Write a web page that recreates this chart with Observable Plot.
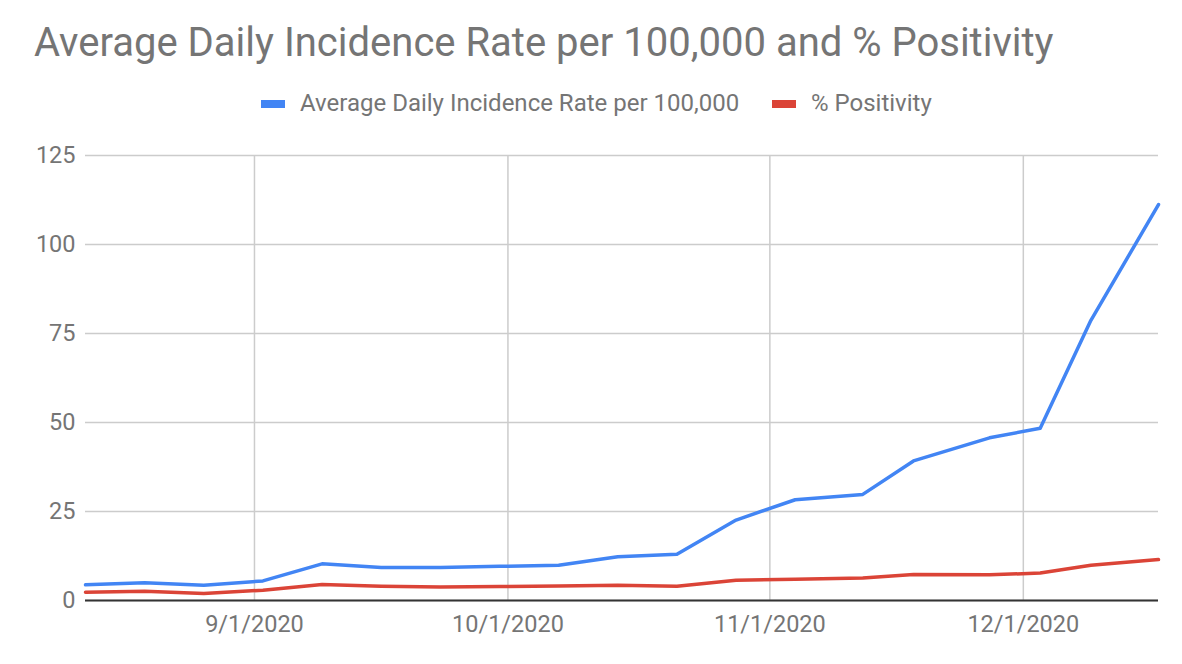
<!DOCTYPE html>
<html>
<head>
<meta charset="utf-8">
<script src="https://cdn.jsdelivr.net/npm/d3@7"></script>
<script src="https://cdn.jsdelivr.net/npm/@observablehq/plot@0.6"></script>
<style>
  html, body { margin: 0; padding: 0; background: #fff; }
  #wrap { position: relative; width: 1182px; height: 664px; font-family: Roboto, "Open Sans", sans-serif; color: #757575; overflow: hidden; }
  #title { position: absolute; left: 34px; top: 19px; font-size: 40px; line-height: 48px; white-space: nowrap; color: #757575; }
  #legend { position: absolute; top: 89px; left: 0; font-size: 24px; line-height: 28px; color: #757575; white-space: nowrap; }
  .item { position: absolute; top: 0; }
  .sw { position: absolute; top: 11px; width: 24px; height: 8px; }
  #chart { position: absolute; left: 0; top: 130px; }
</style>
</head>
<body>
<div id="wrap">
  <div id="title">Average Daily Incidence Rate per 100,000 and % Positivity</div>
  <div id="legend"></div>
  <div id="chart"></div>
</div>
<script>
const dates = ["2020-08-12","2020-08-19","2020-08-26","2020-09-02","2020-09-09","2020-09-16","2020-09-23","2020-09-30","2020-10-07","2020-10-14","2020-10-21","2020-10-28","2020-11-04","2020-11-12","2020-11-18","2020-11-27","2020-12-03","2020-12-09","2020-12-17"];
const incidence = [4.4, 5.0, 4.3, 5.5, 10.3, 9.3, 9.3, 9.6, 9.9, 12.3, 13.0, 22.6, 28.3, 29.8, 39.2, 45.7, 48.4, 78.7, 111.2];
const positivity = [2.3, 2.6, 2.0, 2.9, 4.5, 4.0, 3.8, 3.9, 4.1, 4.3, 4.0, 5.7, 6.0, 6.3, 7.3, 7.2, 7.7, 9.9, 11.5];
const seriesNames = ["Average Daily Incidence Rate per 100,000", "% Positivity"];
const seriesColors = ["#4285F4", "#DB4437"];
const yTicks = [0, 25, 50, 75, 100, 125];
const xTickDates = ["2020-09-01","2020-10-01","2020-11-01","2020-12-01"];
const xTickLabels = ["9/1/2020","10/1/2020","11/1/2020","12/1/2020"];

const parse = d3.utcParse("%Y-%m-%d");
const rows = [];
dates.forEach((d, i) => {
  rows.push({date: parse(d), value: incidence[i], series: seriesNames[0]});
  rows.push({date: parse(d), value: positivity[i], series: seriesNames[1]});
});
const xTicks = xTickDates.map(parse);
const labelMap = new Map(xTicks.map((t, i) => [+t, xTickLabels[i]]));

// Legend
const legend = document.getElementById("legend");
const legendPos = [{sw: 261, tx: 300}, {sw: 772, tx: 811}];
seriesNames.forEach((name, i) => {
  const sw = document.createElement("div");
  sw.className = "sw";
  sw.style.left = legendPos[i].sw + "px";
  sw.style.background = seriesColors[i];
  legend.appendChild(sw);
  const t = document.createElement("div");
  t.className = "item";
  t.style.left = legendPos[i].tx + "px";
  t.textContent = name;
  legend.appendChild(t);
});

const plot = Plot.plot({
  width: 1182,
  height: 534,
  marginLeft: 85,
  marginRight: 24,
  marginTop: 25,
  marginBottom: 64,
  style: {fontFamily: "Roboto, sans-serif", fontSize: "23.5px", color: "#757575", background: "#fff"},
  x: {type: "utc", domain: [parse(dates[0]), parse(dates[dates.length - 1])]},
  y: {domain: [0, 125]},
  color: {domain: seriesNames, range: seriesColors},
  marks: [
    Plot.gridY(yTicks, {stroke: "#cccccc", strokeOpacity: 1, strokeWidth: 1.5}),
    Plot.gridX(xTicks, {stroke: "#cccccc", strokeOpacity: 1, strokeWidth: 1.5}),
    Plot.axisY(yTicks, {tickSize: 0, tickPadding: 10, fontSize: 23.5, fill: "#757575", label: null}),
    Plot.axisX(xTicks, {tickSize: 0, tickPadding: 15, fontSize: 23.5, fill: "#757575", label: null, tickFormat: d => labelMap.get(+d)}),
    Plot.line(rows, {x: "date", y: "value", z: "series", stroke: "series", strokeWidth: 3.5, strokeLinejoin: "round"}),
    Plot.ruleY([0], {stroke: "#333333", strokeWidth: 2})
  ]
});
document.getElementById("chart").appendChild(plot);
</script>
</body>
</html>
